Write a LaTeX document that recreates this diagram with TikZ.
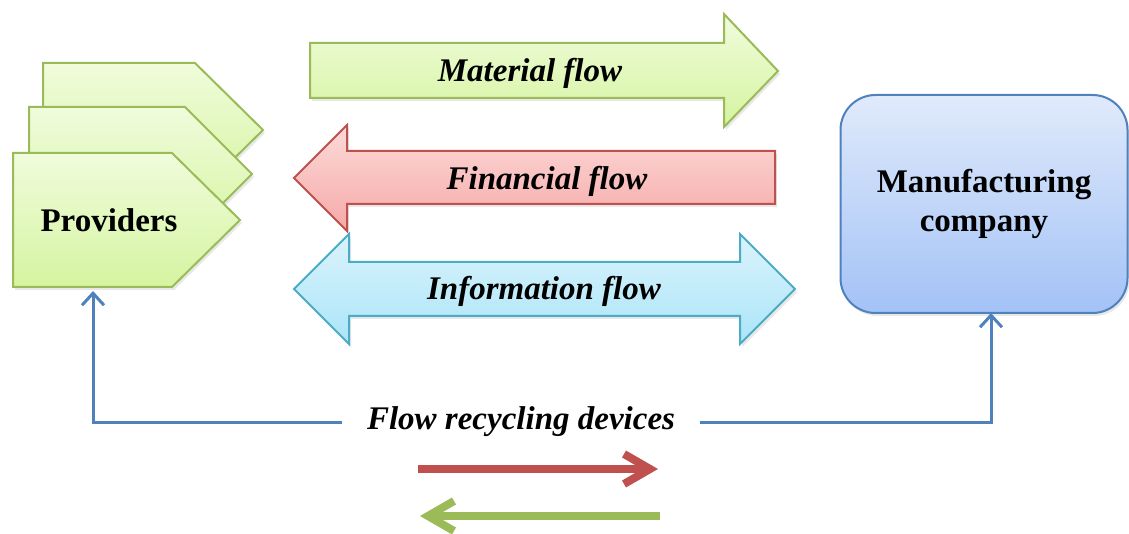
\documentclass[tikz,border=0pt]{standalone}
\usepackage{fontspec}
\setmainfont{Liberation Serif}
\usetikzlibrary{arrows.meta,shadows}

\definecolor{greenline}{HTML}{9BBB59}
\definecolor{greentop}{HTML}{F0FCDC}
\definecolor{greenbot}{HTML}{D5F4A0}
\definecolor{redline}{HTML}{C0504D}
\definecolor{redtop}{HTML}{FCDAD9}
\definecolor{redbot}{HTML}{F5A9A7}
\definecolor{cyanline}{HTML}{4BACC6}
\definecolor{cyantop}{HTML}{DAF3FC}
\definecolor{cyanbot}{HTML}{ABE5F8}
\definecolor{blueline}{HTML}{4F81BD}
\definecolor{bluetop}{HTML}{E0EAFB}
\definecolor{bluebot}{HTML}{A3C2F6}

\tikzset{
  softshadow/.style={drop shadow={opacity=0.18,shadow xshift=2pt,shadow yshift=-3pt}},
  greenshape/.style={draw=greenline,line width=2pt,top color=greentop,bottom color=greenbot,softshadow},
  redshape/.style={draw=redline,line width=2pt,top color=redtop,bottom color=redbot,softshadow},
  cyanshape/.style={draw=cyanline,line width=2pt,top color=cyantop,bottom color=cyanbot,softshadow},
  bluebox/.style={draw=blueline,line width=2pt,top color=bluetop,bottom color=bluebot,softshadow,
    rounded corners=35pt,minimum width=287pt,minimum height=218pt,align=center},
  lbl/.style={font=\fontsize{33}{39}\selectfont\bfseries},
  flowlbl/.style={lbl,font=\fontsize{33}{39}\selectfont\bfseries\itshape},
  recycleline/.style={draw=blueline,line width=3pt,-{Straight Barb[length=12pt,width=22pt]}},
  thickarrow/.style={line width=8pt,-{Straight Barb[length=26pt,width=30pt]},softshadow},
}

\begin{document}
\begin{tikzpicture}[x=1pt,y=-1pt]
\useasboundingbox (0,0) rectangle (1129,534);
\coordinate (provin) at (93,291);
\coordinate (mfgin) at (991,313);
\coordinate (redstart) at (418,469);
\coordinate (redend) at (658,469);
\coordinate (greenstart) at (660,516);
\coordinate (greenend) at (420,516);
% providers
\draw[greenshape] (43,63) -- (195,63) -- (263,130) -- (195,197) -- (43,197) -- cycle;
\draw[greenshape] (29,107) -- (185,107) -- (252,174) -- (185,241) -- (29,241) -- cycle;
\draw[greenshape] (13,153) -- (172,153) -- (240,220) -- (172,287) -- (13,287) -- cycle;
\node[lbl,anchor=base] (prov) at (109,232) {Providers};
% flows
\draw[greenshape] (310,43) -- (724,43) -- (724,14) -- (778,71) -- (724,127) -- (724,98) -- (310,98) -- cycle;
\draw[redshape] (775,151) -- (347,151) -- (347,125) -- (294,178) -- (347,231) -- (347,204) -- (775,204) -- cycle;
\draw[cyanshape] (294,289) -- (349,234) -- (349,262) -- (740,262) -- (740,234) -- (795,289)
  -- (740,344) -- (740,316) -- (349,316) -- (349,344) -- cycle;
\node[flowlbl,anchor=base] (material) at (530,82) {Material flow};
\node[flowlbl,anchor=base] (financial) at (547,190) {Financial flow};
\node[flowlbl,anchor=base] (information) at (544,300) {Information flow};
% company
\node[bluebox,lbl] (mfg) at (984,204) {Manufacturing\\company};
% recycling
\node[flowlbl,inner xsep=25pt] (recyc) at (521,422) {Flow recycling devices};
\draw[recycleline] (recyc.west) -| (provin);
\draw[recycleline] (recyc.east) -| (mfgin);
\draw[thickarrow,redline] (redstart) -- (redend);
\draw[thickarrow,greenline] (greenstart) -- (greenend);
\end{tikzpicture}
\end{document}
